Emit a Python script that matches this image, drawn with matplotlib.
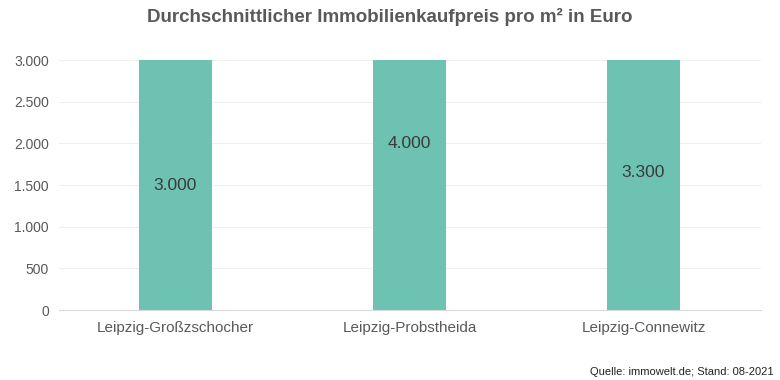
import matplotlib.pyplot as plt
import matplotlib.ticker as mticker

# Chart data
districts = ['Leipzig-Großzschocher', 'Leipzig-Probstheida', 'Leipzig-Connewitz']
prices = [3000, 4000, 3300]
y_ticks = [0, 500, 1000, 1500, 2000, 2500, 3000]
title = 'Durchschnittlicher Immobilienkaufpreis pro m² in Euro'
source = 'Quelle: immowelt.de; Stand: 08-2021'


def de_fmt(v):
    # German thousands separator
    return f'{int(v):,}'.replace(',', '.')


plt.rcParams['font.family'] = ['Liberation Sans', 'DejaVu Sans']

fig = plt.figure(figsize=(7.8, 3.8), dpi=100)
ax = fig.add_axes([0.075, 0.184, 0.9, 0.658])

x = range(len(districts))
ax.bar(x, prices, width=0.31, color='#6dc2b2', zorder=2)

# value labels in the middle of each bar
for xi, v in zip(x, prices):
    ax.text(xi, v / 2, de_fmt(v), ha='center', va='center',
            fontsize=12.5, color='#3a3a3a', zorder=3)

ax.set_ylim(0, 3000)
ax.set_xlim(-0.5, len(districts) - 0.5)
ax.set_yticks(y_ticks)
ax.yaxis.set_major_formatter(mticker.FuncFormatter(lambda v, p: de_fmt(v)))
ax.set_xticks(list(x))
ax.set_xticklabels(districts)

ax.grid(axis='y', color='#efefef', linewidth=0.8, zorder=0)
for side in ['top', 'right', 'left']:
    ax.spines[side].set_visible(False)
ax.spines['bottom'].set_color('#d9d9d9')
ax.tick_params(axis='both', length=0, labelcolor='#595959')
ax.tick_params(axis='y', pad=7, labelsize=10)
ax.tick_params(axis='x', pad=8, labelsize=11)

fig.text(0.5, 0.955, title, ha='center', va='center', fontsize=13.5,
         fontweight='bold', color='#595959')
fig.text(0.992, 0.02, source, ha='right', va='center', fontsize=8,
         color='#222222')

fig.savefig('out.png', dpi=100)
